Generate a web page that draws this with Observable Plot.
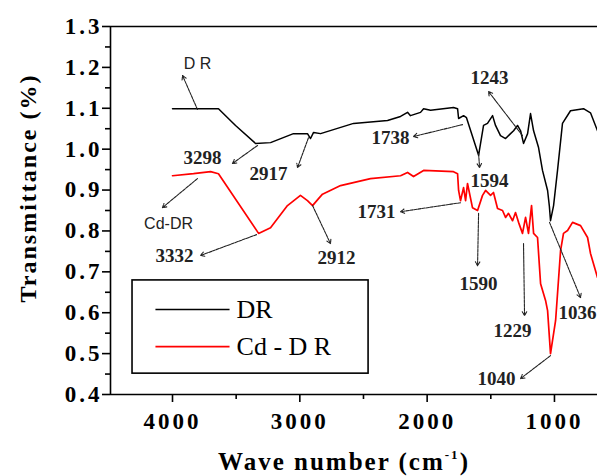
<!DOCTYPE html>
<html>
<head>
<meta charset="utf-8">
<script src="https://cdn.jsdelivr.net/npm/d3@7"></script>
<script src="https://cdn.jsdelivr.net/npm/@observablehq/plot@0.6"></script>
<style>
  html, body { margin: 0; padding: 0; background: #fff; overflow: hidden; }
</style>
</head>
<body>
<div id="chart"></div>
<script>
// ---- Data (wavenumber cm^-1, transmittance) ----
const drWave = [4000,3639,3505,3348,3230,3050,2940,2916,2892,2837,2578,2311,2209,2154,2131,2052,2028,1973,1793,1761,1753,1714,1691,1596,1557,1526,1486,1463,1424,1384,1345,1321,1290,1266,1243,1211,1188,1164,1125,1094,1054,1040,1031,1007,976,937,874,772,717,662];
const drT    = [1.099,1.099,1.058,1.014,1.016,1.038,1.038,1.026,1.041,1.038,1.063,1.070,1.080,1.090,1.082,1.090,1.099,1.095,1.102,1.099,1.075,1.082,1.077,0.985,1.058,1.063,1.082,1.058,1.033,1.026,1.038,1.045,1.058,1.045,1.014,1.038,1.087,1.045,1.004,0.948,0.899,0.860,0.825,0.862,0.948,1.063,1.094,1.099,1.089,1.045];

const cdWave = [4000,3835,3701,3639,3324,3230,3097,2995,2940,2900,2853,2822,2680,2445,2209,2154,2107,2028,1793,1761,1753,1738,1714,1698,1683,1644,1604,1565,1541,1502,1479,1447,1408,1384,1361,1329,1306,1282,1251,1227,1204,1180,1164,1133,1109,1070,1054,1031,991,952,929,897,858,795,740,717,662];
const cdT    = [0.935,0.940,0.945,0.940,0.794,0.808,0.862,0.887,0.874,0.862,0.879,0.890,0.911,0.928,0.935,0.943,0.933,0.948,0.945,0.940,0.899,0.874,0.906,0.874,0.916,0.857,0.850,0.887,0.899,0.887,0.894,0.855,0.850,0.833,0.843,0.825,0.845,0.821,0.794,0.833,0.794,0.862,0.794,0.784,0.671,0.630,0.605,0.500,0.581,0.752,0.794,0.801,0.821,0.813,0.784,0.745,0.686];

// Axis ticks
const xMajorTicks = [4000, 3000, 2000, 1000];
const xMinorTicks = [3500, 2500, 1500];
const yMajorTicks = [0.4, 0.5, 0.6, 0.7, 0.8, 0.9, 1.0, 1.1, 1.2, 1.3];
const yMinorTicks = [0.45, 0.55, 0.65, 0.75, 0.85, 0.95, 1.05, 1.15, 1.25];

// Peak annotation labels (serif, bold)
const peakText  = ["3298","2917","3332","2912","1738","1243","1594","1731","1590","1229","1040"];
const peakX     = [3764, 3246, 3984, 2712, 2288, 1510, 1510, 2398, 1596, 1329, 1455];
const peakY     = [0.979,0.940,0.740,0.735,1.028,1.175,0.923,0.847,0.671,0.556,0.439];
// label anchored at start (clipped at right edge)
const peakTextStart = ["1036"];
const peakXStart = [968];
const peakYStart = [0.600];

// Sample-name labels (sans)
const nameText = ["D R", "Cd-DR"];
const nameX = [3804, 4031];
const nameY = [1.209, 0.818];

// Arrows: from (x1,y1) to (x2,y2)
const arrX1 = [3804,3332,2932,3804,3340,2900,1722,1251,1596,1738,1596,1243,1039,1031];
const arrY1 = [1.097,1.009,1.028,0.928,0.791,0.862,1.060,1.033,0.989,0.869,0.843,0.769,0.821,0.495];
const arrX2 = [3921,3529,3018,4079,3780,2759,2107,1518,1588,2209,1604,1235,795,1266];
const arrY2 = [1.180,0.965,0.955,0.857,0.740,0.769,1.031,1.141,0.955,0.847,0.715,0.593,0.637,0.439];

// Legend
const seriesNames = ["DR", "Cd - D R"];
const seriesColors = ["#000000", "#ff0000"];
const legendBox = {x1: 4314, x2: 2460, y1: 0.451, y2: 0.679};
const legendLineX = [4134, 3552];
const legendRowY = [0.608, 0.517];
const legendTextX = 3497;

// ---- Build tables ----
const dr = drWave.map((w, i) => ({w, t: drT[i]}));
const cd = cdWave.map((w, i) => ({w, t: cdT[i]}));
const peaks = peakText.map((s, i) => ({s, x: peakX[i], y: peakY[i]}));
const peaksStart = peakTextStart.map((s, i) => ({s, x: peakXStart[i], y: peakYStart[i]}));
const names = nameText.map((s, i) => ({s, x: nameX[i], y: nameY[i]}));
const arrows = arrX1.map((d, i) => ({x1: arrX1[i], y1: arrY1[i], x2: arrX2[i], y2: arrY2[i]}));
const legendRows = seriesNames.map((s, i) => ({s, c: seriesColors[i], y: legendRowY[i]}));

const serif = "'Liberation Serif', 'Times New Roman', 'DejaVu Serif', serif";
const sans = "'Liberation Sans', Arial, sans-serif";

const chart = Plot.plot({
  width: 597,
  height: 476,
  marginLeft: 110,
  marginRight: 0,
  marginTop: 26,
  marginBottom: 82,
  x: {domain: [4487, 662], label: null},
  y: {domain: [0.4, 1.3], label: null},
  style: {fontFamily: serif, background: "#fff", color: "#000", overflow: "hidden"},
  marks: [
    // frame lines
    Plot.ruleY([1.3], {stroke: "#000", strokeWidth: 1.6}),
    Plot.ruleY([0.4], {stroke: "#000", strokeWidth: 1.6}),
    Plot.ruleX([4487], {stroke: "#000", strokeWidth: 1.6}),
    // axes
    Plot.axisX(xMinorTicks, {tickSize: 5, strokeWidth: 1.6, tickFormat: () => "", label: null}),
    Plot.axisX(xMajorTicks, {tickSize: 8, strokeWidth: 1.6, tickPadding: 10, fontSize: 23, fontWeight: "bold", tickFormat: d => String(d), label: null}),
    Plot.axisY(yMinorTicks, {tickSize: 5, strokeWidth: 1.6, tickFormat: () => "", label: null}),
    Plot.axisY(yMajorTicks, {tickSize: 8, strokeWidth: 1.6, tickPadding: 0, fontSize: 23, fontWeight: "bold", tickFormat: d3.format(".1f"), label: null}),
    // spectra
    Plot.line(dr, {x: "w", y: "t", stroke: seriesColors[0], strokeWidth: 1.5}),
    Plot.line(cd, {x: "w", y: "t", stroke: seriesColors[1], strokeWidth: 1.7}),
    // annotations
    Plot.arrow(arrows, {x1: "x1", y1: "y1", x2: "x2", y2: "y2", stroke: "#222", strokeWidth: 1.1, headLength: 6, strokeDasharray: "3,1"}),
    Plot.text(peaks, {x: "x", y: "y", text: "s", fontSize: 19, fontWeight: "bold", fill: "#222", lineAnchor: "middle"}),
    Plot.text(peaksStart, {x: "x", y: "y", text: "s", fontSize: 19, fontWeight: "bold", fill: "#222", textAnchor: "start", lineAnchor: "middle"}),
    Plot.text(names, {x: "x", y: "y", text: "s", fontSize: 16, fontFamily: sans, fill: "#222", lineAnchor: "middle"}),
    // legend
    Plot.rect([legendBox], {x1: "x1", x2: "x2", y1: "y1", y2: "y2", fill: "none", stroke: "#000", strokeWidth: 1.6}),
    Plot.link(legendRows, {x1: legendLineX[0], x2: legendLineX[1], y1: "y", y2: "y", stroke: "c", strokeWidth: 1.6}),
    Plot.text(legendRows, {x: legendTextX, y: "y", text: "s", fontSize: 26, fill: "#000", textAnchor: "start", lineAnchor: "middle"})
  ]
});

const svg = d3.select(chart);
svg.selectAll('g[aria-label="x-axis tick label"] text').style("letter-spacing", "3px");
svg.selectAll('g[aria-label="y-axis tick label"] text').style("letter-spacing", "3px");
svg.selectAll('g[aria-label="text"] text').filter(function() {
  return this.getAttribute("font-size") === "19";
}).style("letter-spacing", "1px");

// Axis titles
const xt = svg.append("text")
  .attr("x", 344).attr("y", 470)
  .attr("text-anchor", "middle")
  .attr("font-family", serif).attr("font-size", 25).attr("font-weight", "bold")
  .style("letter-spacing", "2px");
xt.append("tspan").text("Wave number (cm");
xt.append("tspan").attr("font-size", 13).attr("dy", -11).text("-1");
xt.append("tspan").attr("dy", 11).text(")");

svg.append("text")
  .attr("transform", "translate(36,188) rotate(-90)")
  .attr("text-anchor", "middle")
  .attr("font-family", serif).attr("font-size", 24).attr("font-weight", "bold")
  .style("letter-spacing", "2px")
  .text("Transmittance (%)");

document.getElementById("chart").appendChild(chart);
</script>
</body>
</html>
